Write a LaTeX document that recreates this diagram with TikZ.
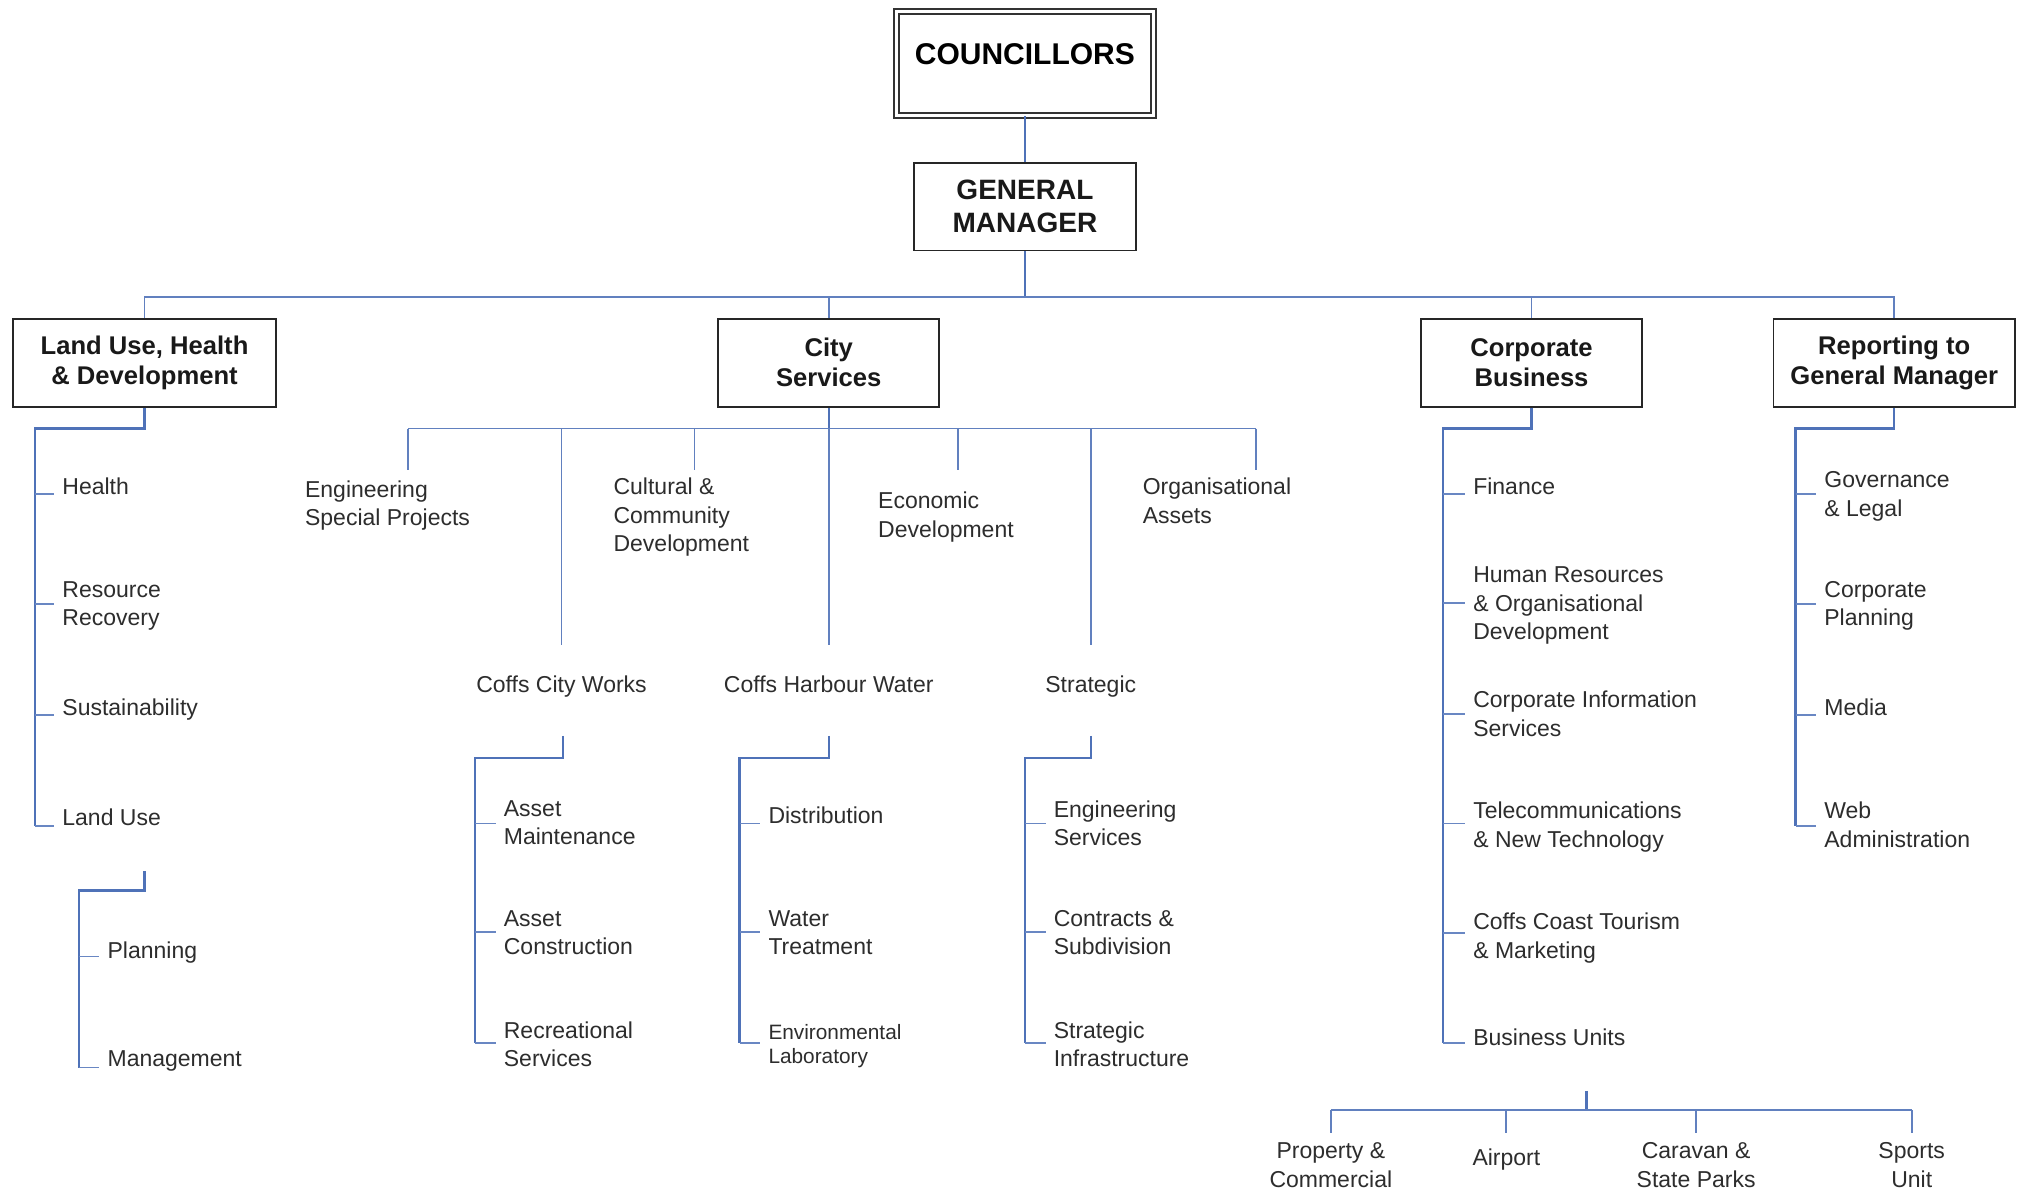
\documentclass[tikz,border=0pt]{standalone}
\usepackage{fontspec}
\setmainfont{Liberation Sans}
\usetikzlibrary{calc}
\definecolor{lnblue}{RGB}{79,114,184}
\definecolor{tkblue}{RGB}{105,135,195}
\definecolor{txt}{RGB}{45,45,45}
\begin{document}
\begin{tikzpicture}[x=0.6454pt,y=-0.6454pt,
 hdr/.style={draw=black!85,line width=0.9pt,inner sep=0pt,align=center,font=\fontsize{12.8}{15}\selectfont\bfseries,text=black!90,minimum height=43.9pt},
 item/.style={anchor=north west,inner xsep=3.9pt,inner ysep=0pt,align=left,font=\fontsize{11.5}{14.2}\selectfont,text=txt},
 citem/.style={anchor=north,inner sep=0pt,align=center,font=\fontsize{11.5}{14.2}\selectfont,text=txt},
 ln/.style={draw=lnblue,line width=1.2pt},
 bus/.style={draw=lnblue!90,line width=0.9pt},
 tk/.style={draw=tkblue,line width=0.9pt}]
\fill[white] (0,0) rectangle (1568,923);
\useasboundingbox (0,0) rectangle (1568,923);

% top level
\node[draw=black!80,line width=0.9pt,double,double distance=1.6pt,inner sep=0pt,
  minimum width=128.2pt,text height=26.7pt,text depth=25.4pt,
  font=\fontsize{15}{18}\selectfont\bfseries] (co) at (794,49) {COUNCILLORS};
\node[hdr,font=\fontsize{14}{16.8}\selectfont\bfseries,minimum width=111pt] (gm) at (794,160) {GENERAL\\MANAGER};
\node[hdr,minimum width=131.7pt] (lu) at (112,281) {Land Use, Health\\\& Development};
\node[hdr,minimum width=110.4pt] (cs) at (642,281) {City\\Services};
\node[hdr,minimum width=110.4pt] (cb) at (1186.5,281) {Corporate\\Business};
\node[hdr,minimum width=120.7pt] (rp) at (1467.5,281) {Reporting to\\General Manager};

\coordinate (tb) at (794,230);
\draw[ln] (co.south) -- (gm.north);
\draw[ln] (gm.south) -- (tb);
\draw[bus] (lu.north) |- (tb);
\draw[bus] (cs.north) |- (tb);
\draw[bus] (cb.north) |- (tb);
\draw[bus] (rp.north) |- (tb);

% Land Use subtree
\coordinate (luS) at (27,332); \coordinate (luB) at (27,640);
\draw[ln] (lu.south) |- (luS) -- (luB);
\node[item] (health) at (42,370) {Health};
\node[item] (resrec) at (42,450) {Resource\\Recovery};
\node[item] (sust) at (42,541) {Sustainability};
\node[item] (landuse) at (42,626) {Land Use};
\foreach \n/\y in {health/383,resrec/468,sust/554,landuse/640}
  \draw[tk] (luS |- 0,\y) -- (\n.west |- 0,\y);
\coordinate (lucT) at (112,675); \coordinate (lucS) at (61,690); \coordinate (lucB) at (61,827);
\draw[ln] (lucT) |- (lucS) -- (lucB);
\node[item] (plan) at (77,729) {Planning};
\node[item] (mgmt) at (77,814) {Management};
\foreach \n/\y in {plan/741,mgmt/827}
  \draw[tk] (lucS |- 0,\y) -- (\n.west |- 0,\y);

% City Services subtree
\coordinate (csb) at (642,332);
\coordinate (csL) at (316,332); \coordinate (csR) at (973,332);
\draw[ln] (cs.south) -- (csb);
\draw[bus] (csL) -- (csR);
\node[item] (esp) at (230,372) {Engineering\\Special Projects};
\node[item] (ccd) at (469,370) {Cultural \&\\Community\\Development};
\node[item] (ed) at (674,381) {Economic\\Development};
\node[item] (oa) at (879,370) {Organisational\\Assets};
\node[citem] (ccw) at (435,523) {Coffs City Works};
\node[citem] (chw) at (642,523) {Coffs Harbour Water};
\node[citem] (strat) at (845,523) {Strategic};
\draw[bus] (csL) -- ($(csL |- esp.north)+(0,-8)$);
\draw[bus] (538,0 |- csL) -- ($(538,0 |- ccd.north)+(0,-6)$);
\draw[bus] (742,0 |- csL) -- ($(742,0 |- ed.north)+(0,-17)$);
\draw[bus] (csR) -- ($(csR |- oa.north)+(0,-6)$);
\draw[bus] (ccw.north |- csL) -- ($(ccw.north)+(0,-23)$);
\draw[bus] (csb) -- ($(chw.north)+(0,-23)$);
\draw[bus] (strat.north |- csL) -- ($(strat.north)+(0,-23)$);

% Coffs City Works
\coordinate (ccwT) at (436,570); \coordinate (ccwS) at (368,587); \coordinate (ccwB) at (368,808);
\draw[ln] (ccwT) |- (ccwS) -- (ccwB);
\node[item] (am) at (384,620) {Asset\\Maintenance};
\node[item] (ac) at (384,705) {Asset\\Construction};
\node[item] (rs) at (384,791) {Recreational\\Services};
\foreach \n/\y in {am/638,ac/722,rs/808}
  \draw[tk] (ccwS |- 0,\y) -- (\n.west |- 0,\y);

% Coffs Harbour Water
\coordinate (chwT) at (642,570); \coordinate (chwS) at (573,587); \coordinate (chwB) at (573,808);
\draw[ln] (chwT) |- (chwS) -- (chwB);
\node[item] (dist) at (589,625) {Distribution};
\node[item] (wt) at (589,705) {Water\\Treatment};
\node[item,font=\fontsize{10.4}{12.3}\selectfont] (el) at (589,793) {Environmental\\Laboratory};
\foreach \n/\y in {dist/638,wt/722,el/808}
  \draw[tk] (chwS |- 0,\y) -- (\n.west |- 0,\y);

% Strategic
\coordinate (stT) at (845,570); \coordinate (stS) at (794,587); \coordinate (stB) at (794,808);
\draw[ln] (stT) |- (stS) -- (stB);
\node[item] (es) at (810,620) {Engineering\\Services};
\node[item] (csd) at (810,705) {Contracts \&\\Subdivision};
\node[item] (si) at (810,791) {Strategic\\Infrastructure};
\foreach \n/\y in {es/638,csd/722,si/808}
  \draw[tk] (stS |- 0,\y) -- (\n.west |- 0,\y);

% Corporate Business subtree
\coordinate (cbS) at (1118,332); \coordinate (cbB) at (1118,808);
\draw[ln] (cb.south) |- (cbS) -- (cbB);
\node[item] (fin) at (1135,370) {Finance};
\node[item] (hr) at (1135,439) {Human Resources\\\& Organisational\\Development};
\node[item] (cis) at (1135,535) {Corporate Information\\Services};
\node[item] (tel) at (1135,621) {Telecommunications\\\& New Technology};
\node[item] (cct) at (1135,707) {Coffs Coast Tourism\\\& Marketing};
\node[item] (bu) at (1135,797) {Business Units};
\foreach \n/\y in {fin/383,hr/467,cis/553,tel/638,cct/723,bu/808}
  \draw[tk] (cbS |- 0,\y) -- (\n.west |- 0,\y);

% Business units
\coordinate (buT) at (1229,845); \coordinate (buJ) at (1229,860);
\draw[ln] (buT) -- (buJ);
\node[citem] (pc) at (1031,885) {Property \&\\Commercial};
\node[citem] (ap) at (1167,890) {Airport};
\node[citem] (csp) at (1314,885) {Caravan \&\\State Parks};
\node[citem] (su) at (1481,885) {Sports\\Unit};
\draw[bus] (pc.north |- buJ) -- (su.north |- buJ);
\foreach \n/\d in {pc/7,ap/12,csp/7,su/7}
  \draw[bus] (\n.north |- buJ) -- ($(\n.north)+(0,-\d)$);

% Reporting subtree
\coordinate (rpS) at (1391,332); \coordinate (rpB) at (1391,640);
\draw[ln] (rp.south) |- (rpS) -- (rpB);
\node[item] (gl) at (1407,365) {Governance\\\& Legal};
\node[item] (cp) at (1407,450) {Corporate\\Planning};
\node[item] (media) at (1407,541) {Media};
\node[item] (wa) at (1407,621) {Web\\Administration};
\foreach \n/\y in {gl/383,cp/468,media/554,wa/640}
  \draw[tk] (rpS |- 0,\y) -- (\n.west |- 0,\y);
\end{tikzpicture}
\end{document}
